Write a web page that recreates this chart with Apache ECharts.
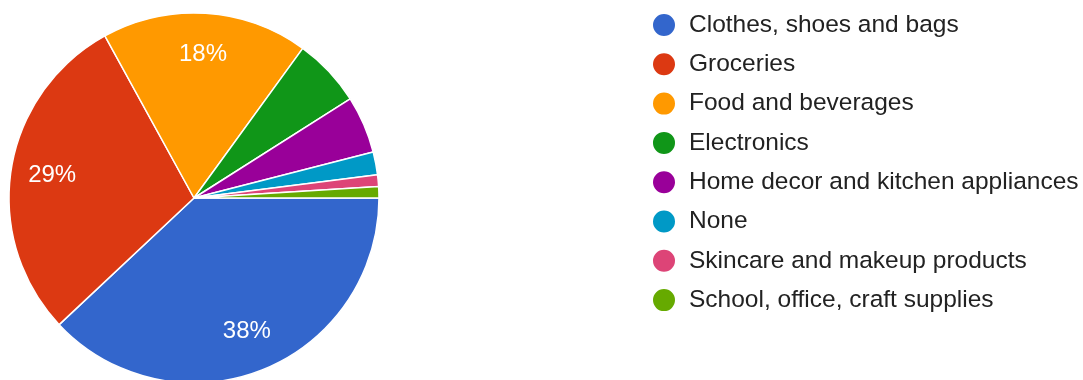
<!DOCTYPE html>
<html>
<head>
<meta charset="utf-8">
<style>
  html, body { margin: 0; padding: 0; background: #fff; }
  #chart { width: 1083px; height: 380px; }
</style>
<script src="https://cdn.jsdelivr.net/npm/echarts@6/dist/echarts.min.js"></script>
</head>
<body>
<div id="chart"></div>
<script>
// Shopping categories and share of responses
const categories = [
  'Clothes, shoes and bags',
  'Groceries',
  'Food and beverages',
  'Electronics',
  'Home decor and kitchen appliances',
  'None',
  'Skincare and makeup products',
  'School, office, craft supplies'
];
const counts = [38, 29, 18, 6, 5, 2, 1, 1];
const colors = ['#3366cc', '#dc3912', '#ff9900', '#109618', '#990099', '#0099c6', '#dd4477', '#66aa00'];

const pieData = categories.map((name, i) => ({ name: name, value: counts[i] }));
const FONT = '"Liberation Sans", Arial, sans-serif';
const CENTER = [194, 198];
const R = 185;

const chart = echarts.init(document.getElementById('chart'), null, { renderer: 'canvas' });
chart.setOption({
  animation: false,
  color: colors,
  legend: {
    orient: 'vertical',
    left: 651,
    top: 12,
    padding: 0,
    icon: 'circle',
    itemWidth: 40,
    itemHeight: 24,
    itemGap: 13.3,
    selectedMode: false,
    textStyle: { fontFamily: FONT, fontSize: 24.5, color: '#222', lineHeight: 24 },
    data: categories
  },
  series: [
    {
      type: 'pie',
      center: CENTER,
      radius: [0, R],
      startAngle: 0,
      clockwise: true,
      avoidLabelOverlap: false,
      silent: true,
      itemStyle: { borderColor: '#fff', borderWidth: 1.5 },
      label: { show: false },
      labelLine: { show: false },
      data: pieData
    },
    {
      // transparent ring that places the percentage labels further out
      type: 'pie',
      center: CENTER,
      radius: [R * 0.52, R],
      startAngle: 0,
      clockwise: true,
      avoidLabelOverlap: false,
      silent: true,
      legendHoverLink: false,
      itemStyle: { color: 'rgba(0,0,0,0)', borderWidth: 0 },
      label: {
        show: true,
        position: 'inside',
        fontFamily: FONT,
        fontSize: 24,
        color: '#fff',
        formatter: p => (p.percent >= 10 ? Math.round(p.percent) + '%' : '')
      },
      labelLine: { show: false },
      data: pieData.map(d => ({ name: d.name + ' ', value: d.value }))
    }
  ]
});
</script>
</body>
</html>
